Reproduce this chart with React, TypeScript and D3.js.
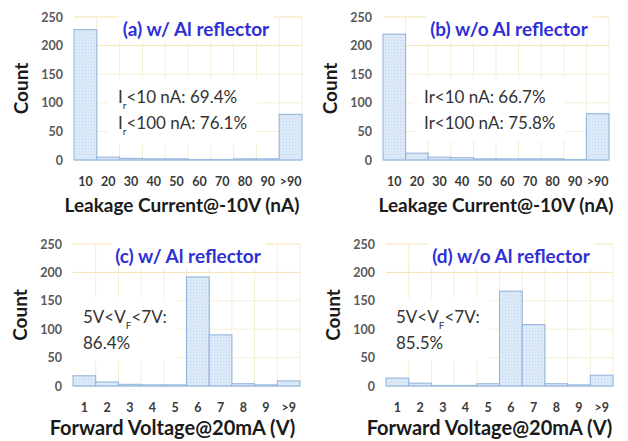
import React, { useEffect, useRef } from 'react';
import * as d3 from 'd3';

// histogram bins and counts
const leakageBins = ['10', '20', '30', '40', '50', '60', '70', '80', '90', '>90'];
const leakageWithAl = [228, 5, 3, 2, 2, 1, 1, 2, 2, 80];
const leakageWithoutAl = [220, 12, 5, 4, 2, 2, 2, 2, 1, 81];

const voltageBins = ['1', '2', '3', '4', '5', '6', '7', '8', '9', '>9'];
const voltageWithAl = [18, 7, 3, 2, 2, 192, 90, 4, 2, 9];
const voltageWithoutAl = [14, 5, 1, 1, 4, 167, 108, 4, 2, 19];

const yTicks = [0, 50, 100, 150, 200, 250];

const panels = [
    {
        bins: leakageBins, values: leakageWithAl,
        title: '(a) w/ Al reflector', xTitle: 'Leakage Current@-10V (nA)',
        x0: 74, x1: 302, y0: 17, y1: 160, titleX: 196, xTitleDx: -6, xTitleSize: 19, xTitleDy: 52,
        note: [['I', 'r', '<10 nA: 69.4%'], ['I', 'r', '<100 nA: 76.1%']], noteX: 118, noteY: 103,
    },
    {
        bins: leakageBins, values: leakageWithoutAl,
        title: '(b) w/o Al reflector', xTitle: 'Leakage Current@-10V (nA)',
        x0: 383, x1: 609, y0: 17, y1: 160, titleX: 509, xTitleDx: 0, xTitleSize: 19, xTitleDy: 52,
        note: [['Ir<10 nA: 66.7%'], ['Ir<100 nA: 75.8%']], noteX: 424, noteY: 103,
    },
    {
        bins: voltageBins, values: voltageWithAl,
        title: '(c) w/ Al reflector', xTitle: 'Forward Voltage@20mA (V)',
        x0: 73, x1: 300, y0: 244, y1: 386, titleX: 188, xTitleDx: -14, xTitleSize: 20, xTitleDy: 49,
        note: [['5V<V', 'F', '<7V:'], ['86.4%']], noteX: 83, noteY: 323,
    },
    {
        bins: voltageBins, values: voltageWithoutAl,
        title: '(d) w/o Al reflector', xTitle: 'Forward Voltage@20mA (V)',
        x0: 386, x1: 613, y0: 244, y1: 386, titleX: 511, xTitleDx: -10, xTitleSize: 20, xTitleDy: 49,
        note: [['5V<V', 'F', '<7V:'], ['85.5%']], noteX: 396, noteY: 323,
    },
];

const font = 'Lato, "Open Sans", sans-serif';

export default function App() {
    const ref = useRef<SVGSVGElement>(null);

    useEffect(() => {
        const svg = d3.select(ref.current);
        svg.selectAll('*').remove();

        // light dotted texture for bars
        const pat = svg.append('defs').append('pattern')
            .attr('id', 'dots').attr('width', 3).attr('height', 3)
            .attr('patternUnits', 'userSpaceOnUse');
        pat.append('rect').attr('width', 3).attr('height', 3).attr('fill', '#dce9f8');
        pat.append('rect').attr('x', 1).attr('y', 1).attr('width', 1).attr('height', 1).attr('fill', '#c3d7ef');

        panels.forEach((p: any) => {
            const x = d3.scaleBand().domain(p.bins).range([p.x0, p.x1]).padding(0);
            const y = d3.scaleLinear().domain([0, 250]).range([p.y1, p.y0]);
            const g = svg.append('g');

            // gridlines
            g.selectAll('.hgrid').data(yTicks.slice(1)).enter().append('line')
                .attr('x1', p.x0).attr('x2', p.x1)
                .attr('y1', (d: any) => y(d)).attr('y2', (d: any) => y(d))
                .attr('stroke', (d: any) => d === 250 || d === 200 ? '#f3e4b0' : '#f4eed6').attr('stroke-width', 1);
            g.selectAll('.vgrid').data(p.bins.slice(1).concat(['end'])).enter().append('line')
                .attr('x1', (d: any, i: number) => p.x0 + x.bandwidth() * (i + 1))
                .attr('x2', (d: any, i: number) => p.x0 + x.bandwidth() * (i + 1))
                .attr('y1', p.y0).attr('y2', p.y1)
                .attr('stroke', '#f4eed6').attr('stroke-width', 1);

            // bars
            g.selectAll('.bar').data(p.values).enter().append('rect')
                .attr('x', (d: any, i: number) => x(p.bins[i]))
                .attr('y', (d: any) => y(d))
                .attr('width', x.bandwidth())
                .attr('height', (d: any) => p.y1 - y(d))
                .attr('fill', 'url(#dots)')
                .attr('stroke', '#8fb1da').attr('stroke-width', 1);

            // baseline
            g.append('line').attr('x1', p.x0).attr('x2', p.x1)
                .attr('y1', p.y1).attr('y2', p.y1)
                .attr('stroke', '#a8c3e5').attr('stroke-width', 1.2);

            // y ticks
            g.selectAll('.ytick').data(yTicks).enter().append('text')
                .attr('x', p.x0 - 11).attr('y', (d: any) => y(d) + 4.5)
                .attr('text-anchor', 'end')
                .style('font', `bold 12.5px ${font}`).attr('fill', '#595959')
                .text((d: any) => d);

            // x ticks
            g.selectAll('.xtick').data(p.bins).enter().append('text')
                .attr('x', (d: any) => (x(d) as number) + x.bandwidth() / 2)
                .attr('y', p.y1 + 26)
                .attr('text-anchor', 'middle')
                .style('font', `bold 12.5px ${font}`).attr('fill', '#3a3a3a')
                .text((d: any) => d);

            // axis titles
            g.append('text')
                .attr('transform', `translate(${p.x0 - 46},${(p.y0 + p.y1) / 2}) rotate(-90)`)
                .attr('text-anchor', 'middle')
                .style('font', `bold 19px ${font}`).attr('fill', '#1a1a1a')
                .text('Count');
            g.append('text')
                .attr('x', (p.x0 + p.x1) / 2 + p.xTitleDx).attr('y', p.y1 + p.xTitleDy)
                .attr('text-anchor', 'middle')
                .style('font', `bold ${p.xTitleSize}px ${font}`).attr('fill', '#1a1a1a')
                .text(p.xTitle);

            // panel title with white backing
            const tbg = g.append('rect').attr('fill', '#fff');
            const title = g.append('text')
                .attr('x', p.titleX).attr('y', p.y0 + 19)
                .attr('text-anchor', 'middle')
                .style('font', `bold 19px ${font}`).attr('fill', '#2f2fd6')
                .text(p.title);
            const tb = (title.node() as SVGTextElement).getBBox();
            tbg.attr('x', tb.x - 4).attr('y', tb.y - 1).attr('width', tb.width + 8).attr('height', tb.height + 2);

            // annotation with white backing
            const nbg = g.append('rect').attr('fill', '#fff');
            const note = g.append('g');
            p.note.forEach((line: string[], li: number) => {
                const t = note.append('text')
                    .attr('x', p.noteX).attr('y', p.noteY + li * 26)
                    .style('font', `17px ${font}`).attr('fill', '#333');
                line.forEach((part: string, k: number) => {
                    const ts = t.append('tspan').text(part);
                    if (line.length === 3 && k === 1) ts.attr('baseline-shift', 'sub').style('font-size', '10px');
                });
            });
            const nb = (note.node() as SVGGElement).getBBox();
            nbg.attr('x', nb.x - 10).attr('y', nb.y - 8).attr('width', nb.width + 20).attr('height', nb.height + 16);
        });
    }, []);

    return (
        <svg ref={ref} width={628} height={441} style={{ position: 'absolute', left: 0, top: 0, background: '#fff' }} />
    );
}
